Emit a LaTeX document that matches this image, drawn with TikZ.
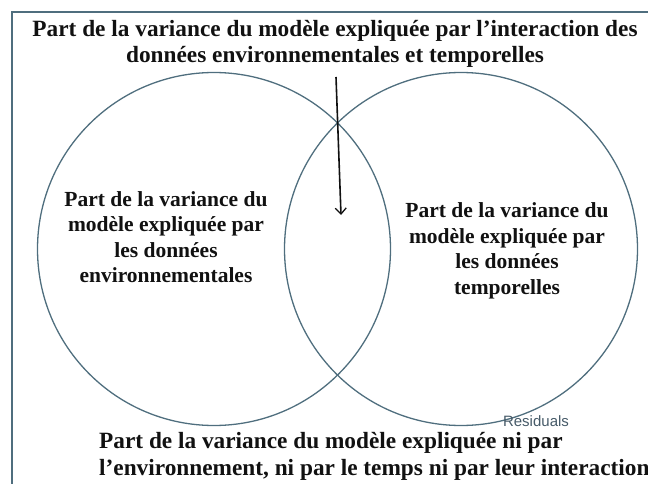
\documentclass[tikz,border=0pt]{standalone}
\usepackage{fontspec}
\setmainfont{Liberation Serif}
\setsansfont{Liberation Sans}
\usepackage{tikz}
\usepackage{xcolor}
\usetikzlibrary{arrows.meta,positioning,shapes}
\definecolor{setline}{HTML}{4F6E7E}
\definecolor{ink}{HTML}{111111}
\definecolor{residgray}{HTML}{465A68}
\tikzset{
  vennset/.style={draw=setline,circle,line width=1.3pt,
                  minimum size=353pt,inner sep=0pt},
  zonetext/.style={align=center,text=ink,
                   font=\fontsize{21.5}{25.5}\selectfont\bfseries,inner sep=0pt},
  bigtext/.style={zonetext,font=\fontsize{23.3}{26.5}\selectfont\bfseries},
  pointarr/.style={-{Straight Barb[length=6pt,width=11pt,line width=1.3pt]},
                   line width=1.6pt,color=ink},
  framelin/.style={draw=setline,line width=1.2pt}
}

\begin{document}
\begin{tikzpicture}[x=1pt,y=-1pt,>=Latex]
  \useasboundingbox (0,0) rectangle (648,484);
  % frame (top and left only)
  \draw[framelin] (648,12) -- (12,12) -- (12,484);

  % the two sets
  \node[vennset] (envset) at (214,249) {};
  \node[vennset] (timeset) at (461,249) {};

  % labels
  \node[bigtext] (inter) at (335,44) {Part de la variance du modèle expliquée par l’interaction des\\données environnementales et temporelles};
  \node[zonetext] (envpart) at (166,237) {Part de la variance du\\modèle expliquée par\\les données\\environnementales};
  \node[zonetext] (timepart) at (507,251) {Part de la variance du\\modèle expliquée par\\les données\\temporelles};
  \node[bigtext,align=left,anchor=west] (resid) at (99,456.5) {Part de la variance du modèle expliquée ni par\\l’environnement, ni par le temps ni par leur interaction};
  \node[font=\sffamily\fontsize{15}{17}\selectfont,text=residgray,inner sep=0pt] (residlab) at (536,421) {Residuals};

  % arrow into the overlap
  \coordinate (arrtop) at (336,77);
  \coordinate (arrtip) at (341,215);
  \draw[pointarr] (arrtop) -- (arrtip);
\end{tikzpicture}
\end{document}
